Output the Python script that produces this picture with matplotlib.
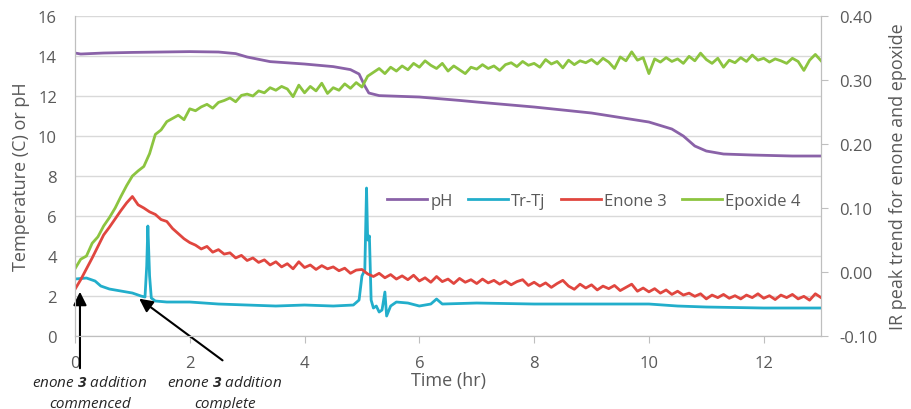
import numpy as np
import matplotlib
matplotlib.use('Agg')
import matplotlib.pyplot as plt

plt.rcParams['font.family'] = ['Open Sans', 'DejaVu Sans']
plt.rcParams['mathtext.fontset'] = 'custom'
plt.rcParams['mathtext.bf'] = 'Open Sans:italic:bold'
plt.rcParams['mathtext.rm'] = 'Open Sans:italic'

# IR trend, sampled every 0.1 hr from 0 to 13 hr
ir_time = np.round(np.arange(0, 13.01, 0.1), 2)

epoxide = [
    0.005, 0.020, 0.025, 0.045, 0.055, 0.072, 0.085, 0.100, 0.118, 0.135,
    0.150, 0.158, 0.165, 0.185, 0.215, 0.222, 0.235, 0.240, 0.245, 0.238,
    0.255, 0.252, 0.258, 0.262, 0.256, 0.265, 0.268, 0.272, 0.266, 0.276,
    0.278, 0.275, 0.283, 0.280, 0.288, 0.284, 0.290, 0.286, 0.274, 0.292,
    0.280, 0.290, 0.283, 0.295, 0.279, 0.288, 0.284, 0.294, 0.287, 0.296,
    0.289, 0.306, 0.312, 0.318, 0.310, 0.320, 0.314, 0.322, 0.316, 0.326,
    0.320, 0.330, 0.323, 0.318, 0.326, 0.314, 0.322, 0.316, 0.310, 0.320,
    0.317, 0.324, 0.318, 0.322, 0.315, 0.324, 0.327, 0.321, 0.329, 0.323,
    0.326, 0.320, 0.332, 0.325, 0.329, 0.319, 0.331, 0.324, 0.330, 0.327,
    0.332, 0.325, 0.334, 0.328, 0.318, 0.336, 0.330, 0.344, 0.331, 0.335,
    0.310, 0.333, 0.328, 0.335, 0.329, 0.333, 0.326, 0.337, 0.330, 0.342,
    0.332, 0.326, 0.334, 0.320, 0.331, 0.327, 0.335, 0.329, 0.339, 0.331,
    0.334, 0.328, 0.333, 0.330, 0.326, 0.334, 0.329, 0.315, 0.331, 0.340,
    0.330,
]

enone = [
    -0.027, -0.012, 0.005, 0.022, 0.040, 0.058, 0.070, 0.083, 0.096, 0.108,
    0.118, 0.105, 0.100, 0.094, 0.090, 0.082, 0.079, 0.068, 0.060, 0.052,
    0.046, 0.042, 0.036, 0.040, 0.031, 0.035, 0.028, 0.030, 0.022, 0.026,
    0.018, 0.022, 0.015, 0.019, 0.011, 0.016, 0.008, 0.013, 0.005, 0.016,
    0.007, 0.011, 0.004, 0.010, 0.005, 0.008, 0.002, 0.006, -0.002, 0.003,
    0.004, -0.003, -0.007, -0.002, -0.009, -0.004, -0.011, -0.006, -0.012, -0.005,
    -0.014, -0.009, -0.016, -0.007, -0.015, -0.011, -0.018, -0.010, -0.016, -0.012,
    -0.018, -0.011, -0.017, -0.013, -0.019, -0.014, -0.020, -0.015, -0.012, -0.021,
    -0.016, -0.022, -0.017, -0.024, -0.018, -0.013, -0.022, -0.027, -0.019, -0.025,
    -0.020, -0.028, -0.022, -0.026, -0.021, -0.029, -0.024, -0.019, -0.030, -0.025,
    -0.031, -0.026, -0.033, -0.028, -0.035, -0.030, -0.036, -0.033, -0.038, -0.034,
    -0.042, -0.036, -0.040, -0.035, -0.041, -0.037, -0.042, -0.036, -0.040, -0.034,
    -0.041, -0.037, -0.043, -0.036, -0.040, -0.035, -0.042, -0.038, -0.044, -0.034,
    -0.040,
]

ph_time = [0, 0.1, 0.5, 1, 1.5, 2, 2.5, 2.8, 3.0, 3.4, 4.0, 4.5, 4.8, 4.95,
           5.05, 5.12, 5.3, 6.0, 6.7, 7.0, 8.0, 9.0, 10.0, 10.4, 10.6, 10.8,
           11.0, 11.3, 11.8, 12.5, 13.0]
ph = [14.15, 14.1, 14.15, 14.18, 14.2, 14.22, 14.2, 14.12, 13.95, 13.72, 13.6,
      13.47, 13.32, 13.1, 12.5, 12.15, 12.02, 11.95, 11.78, 11.7, 11.45, 11.15,
      10.7, 10.35, 10.0, 9.5, 9.25, 9.1, 9.05, 9.0, 9.0]

trtj_time = [0, 0.2, 0.35, 0.45, 0.6, 0.8, 1.0, 1.15, 1.22, 1.25, 1.27, 1.3,
             1.33, 1.4, 1.6, 2.0, 2.5, 3.0, 3.5, 4.0, 4.5, 4.85, 4.95, 5.0,
             5.05, 5.08, 5.1, 5.13, 5.16, 5.2, 5.25, 5.3, 5.35, 5.4, 5.43, 5.5,
             5.6, 5.8, 6.0, 6.2, 6.3, 6.4, 7.0, 8.0, 9.0, 10.0, 10.5, 11.0,
             12.0, 13.0]
trtj = [2.85, 2.9, 2.75, 2.5, 2.35, 2.25, 2.15, 2.0, 1.95, 3.5, 5.5, 3.0,
        1.9, 1.75, 1.7, 1.7, 1.6, 1.55, 1.5, 1.55, 1.5, 1.55, 1.8, 3.0,
        3.3, 7.4, 4.8, 5.0, 1.8, 1.4, 1.5, 1.2, 1.3, 2.2, 1.0, 1.5,
        1.7, 1.65, 1.5, 1.6, 1.85, 1.6, 1.65, 1.6, 1.6, 1.6, 1.5, 1.45,
        1.4, 1.4]

c_ph = '#8A62A8'
c_trtj = '#22AECB'
c_enone = '#E0463F'
c_epox = '#8CC440'
grey = '#595959'

fig = plt.figure(figsize=(9.11, 4.10), dpi=100)
ax = fig.add_axes([0.0823, 0.178, 0.819, 0.7805])
ax2 = ax.twinx()

l1, = ax.plot(ph_time, ph, color=c_ph, lw=2, label='pH')
l2, = ax.plot(trtj_time, trtj, color=c_trtj, lw=2, label='Tr-Tj')
l3, = ax2.plot(ir_time, enone, color=c_enone, lw=2, label='Enone 3')
l4, = ax2.plot(ir_time, epoxide, color=c_epox, lw=2, label='Epoxide 4')

ax.set_xlim(0, 13)
ax.set_ylim(0, 16)
ax2.set_ylim(-0.10, 0.40)
ax.set_xticks(range(0, 13, 2))
ax.set_yticks(range(0, 17, 2))
ax2.set_yticks(np.arange(-0.1, 0.41, 0.1))
ax2.set_yticklabels(['%.2f' % v for v in np.arange(-0.1, 0.41, 0.1)])

ax.grid(axis='y', color='#D9D9D9', lw=1)
ax.set_axisbelow(True)
for a in (ax, ax2):
    a.spines['top'].set_visible(False)
    for s in ('left', 'right', 'bottom'):
        a.spines[s].set_color('#BFBFBF')
ax.tick_params(axis='y', length=0, labelsize=12, labelcolor=grey, pad=13)
ax.tick_params(axis='x', length=5, color='#BFBFBF', labelsize=12,
               labelcolor=grey, pad=9)
ax2.tick_params(axis='y', length=5, color='#BFBFBF', labelsize=12,
                labelcolor=grey, pad=8)

ax.set_xlabel('Time (hr)', fontsize=13, color=grey, labelpad=0)
ax.set_ylabel('Temperature (C) or pH', fontsize=13, color=grey, labelpad=6)
ax2.set_ylabel('IR peak trend for enone and epoxide', fontsize=13,
               color=grey, labelpad=8)

fig.legend(handles=[l1, l2, l3, l4], loc='center', ncol=4, frameon=False,
           bbox_to_anchor=(0.652, 0.507), fontsize=12, handlelength=2.4,
           handletextpad=0.2, columnspacing=0.9, labelcolor=grey)

arrow = dict(arrowstyle='-|>', mutation_scale=20, lw=1.5, color='black')
ax.annotate('', xy=(0.087, 2.35), xytext=(0.087, -1.75), arrowprops=arrow,
            annotation_clip=False)
ax.annotate('', xy=(1.08, 1.95), xytext=(2.61, -1.3), arrowprops=arrow,
            annotation_clip=False)

for xc, word in ((0.26, 'commenced'), (2.61, 'complete')):
    ax.text(xc, -2.3, r'enone $\mathbf{3}$ addition', ha='center', va='center',
            fontsize=11, style='italic', color='#262626', clip_on=False)
    ax.text(xc, -3.35, word, ha='center', va='center', fontsize=11,
            style='italic', color='#262626', clip_on=False)

fig.savefig('out.png', dpi=100)
